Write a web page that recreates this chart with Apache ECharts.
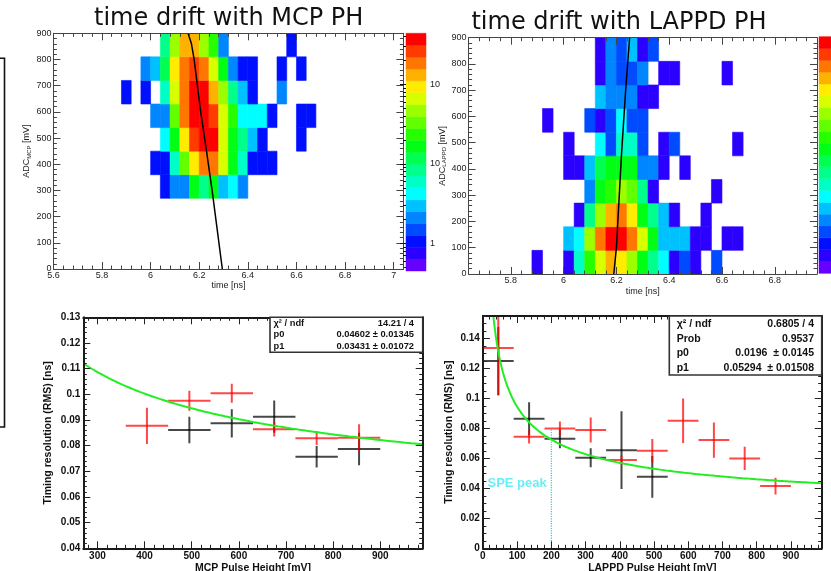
<!DOCTYPE html>
<html>
<head>
<meta charset="utf-8">
<script src="https://cdn.jsdelivr.net/npm/echarts@6.0.0/dist/echarts.min.js"></script>
<style>
html,body{margin:0;padding:0;background:#ffffff;}
#chart{width:831px;height:571px;}
</style>
</head>
<body>
<div id="chart"></div>
<script>
// ================= DATA =================
const _ = null;
const titles = ['time drift with MCP PH', 'time drift with LAPPD PH'];

// 2D histograms: lower edges of the time bins [ns] and ADC bins [mV]
const timeBinLow = [5.88,5.92,5.96,6.00,6.04,6.08,6.12,6.16,6.20,6.24,6.28,6.32,6.36,6.40,6.44,6.48,6.52,6.56,6.60,6.64,6.68];
const adcBinLow  = [0,90,180,270,360,450,540,630,720,810];
const timeBinWidth = 0.04;
const adcBinWidth = 90;

// colour-scale level of each cell (0 = lowest colour, 19 = highest), rows from ADC 0 upward
const mcpLevels = [
  [_,_,_,_,_,_,_,_,_,_,_,_,_,_,_,_,_,_,_,_,_],
  [_,_,_,_,_,_,_,_,_,_,_,_,_,_,_,_,_,_,_,_,_],
  [_,_,_,_,_,_,_,_,_,_,_,_,_,_,_,_,_,_,_,_,_],
  [_,_,_,_,2,4,4,10,8,10,5,6,4,_,_,_,_,_,_,_,_],
  [_,_,_,2,2,7,12,15,17,17,14,10,7,2,2,2,_,_,_,_,_],
  [_,_,_,_,6,10,15,18,19,19,14,10,8,5,2,_,_,_,2,_,_],
  [_,_,_,4,4,12,17,19,19,18,14,11,6,6,6,2,_,_,2,2,_],
  [2,_,2,_,7,14,17,19,19,16,13,8,5,2,_,_,4,_,_,_,_],
  [_,_,4,5,9,15,17,18,17,14,10,4,2,2,_,_,2,_,2,_,_],
  [_,_,_,_,8,13,16,16,13,11,4,_,_,_,_,_,_,2,_,_,_]
];
const lappdLevels = [
  [1,_,_,1,7,11,14,16,15,13,10,8,6,1,3,1,_,3,_,_,_],
  [_,_,_,5,6,13,17,19,19,17,14,10,5,5,5,1,1,_,1,1,_],
  [_,_,_,_,1,8,13,16,17,15,10,8,5,1,_,_,1,_,_,_,_],
  [_,_,_,_,_,4,10,11,13,12,8,1,_,_,_,_,_,1,_,_,_],
  [_,_,_,1,1,5,9,10,10,10,4,4,1,_,1,_,_,_,_,_,_],
  [_,_,_,1,_,_,6,3,7,7,3,_,1,3,_,_,_,_,_,1,_],
  [_,1,_,_,_,3,1,3,6,3,3,_,_,_,_,_,_,_,_,_,_],
  [_,_,_,_,_,_,5,4,4,4,1,1,_,_,_,_,_,_,_,_,_],
  [_,_,_,_,_,_,1,4,3,3,4,_,1,1,_,_,_,_,1,_,_],
  [_,_,_,_,_,_,1,4,3,5,1,3,_,_,_,_,_,_,_,_,_]
];

// drift fit curves drawn on the 2D histograms
const mcpFitTime   = [6.295, 6.253, 6.230, 6.206, 6.179, 6.168, 6.154];
const mcpFitAdc    = [0, 300, 450, 600, 800, 860, 900];
const lappdFitTime = [6.190, 6.200, 6.219, 6.235, 6.250];
const lappdFitAdc  = [0, 100, 450, 700, 900];

// colour bar (log10 of z) of the MCP histogram
const mcpZLogMin = -0.348, mcpZLogMax = 2.642;
const mcpColorTicks = [0, 1, 2];
const mcpColorTickLabels = ['1', '10', '10'];

// timing resolution vs pulse height
const phBinHalfWidth = 45;
const mcpPh        = [405, 495, 585, 675, 765, 855];
const mcpRed       = [0.0877, 0.0975, 0.1004, 0.0864, 0.0829, 0.0831];
const mcpRedErr    = [0.0071, 0.0039, 0.0037, 0.0028, 0.0027, 0.0052];
const mcpBlackPh   = [495, 585, 675, 765, 855];
const mcpBlack     = [0.0861, 0.0887, 0.0913, 0.0757, 0.0787];
const mcpBlackErr  = [0.0052, 0.0055, 0.0063, 0.0042, 0.0063];

const lappdPh       = [45, 135, 225, 315, 405, 495, 585, 675, 765, 855];
const lappdRed      = [0.1337, 0.0744, 0.0800, 0.0789, 0.0589, 0.0651, 0.0851, 0.0722, 0.0600, 0.0415];
const lappdRedErr   = [0.0315, 0.0044, 0.0046, 0.0083, 0.0030, 0.0078, 0.0148, 0.0117, 0.0078, 0.0056];
const lappdBlackPh  = [45, 135, 225, 315, 405, 495];
const lappdBlack    = [0.1249, 0.0864, 0.0731, 0.0604, 0.0655, 0.0477];
const lappdBlackErr = [0.0227, 0.0111, 0.0063, 0.0063, 0.0260, 0.0139];

// fit results  f(x) = p0 + p1*sqrt(ref/x)
const mcpP0 = 0.04602, mcpP1 = 0.03431, mcpRef = 1000;
const lappdP0 = 0.0196, lappdP1 = 0.05294, lappdRef = 200;
const mcpStats = [['χ² / ndf', '14.21 / 4'], ['p0', '0.04602 ± 0.01345'], ['p1', '0.03431 ± 0.01072']];
const lappdStats = [['χ² / ndf', '0.6805 / 4'], ['Prob', '0.9537'], ['p0', '0.0196  ± 0.0145'], ['p1', '0.05294  ± 0.01508']];
const spePeakPh = 200, spePeakTop = 0.08, speLabel = 'SPE peak', speLabelPos = [100, 0.0433];

// tick labels
const mcpTimeTicks   = [5.6, 5.8, 6, 6.2, 6.4, 6.6, 6.8, 7];
const lappdTimeTicks = [5.8, 6, 6.2, 6.4, 6.6, 6.8];
const adcTicks       = [0, 100, 200, 300, 400, 500, 600, 700, 800, 900];
const mcpPhTicks     = [300, 400, 500, 600, 700, 800, 900];
const lappdPhTicks   = [0, 100, 200, 300, 400, 500, 600, 700, 800, 900];
const mcpResTicks    = [0.04, 0.05, 0.06, 0.07, 0.08, 0.09, 0.1, 0.11, 0.12, 0.13];
const lappdResTicks  = [0, 0.02, 0.04, 0.06, 0.08, 0.1, 0.12, 0.14];

// ================= STYLE / BUILD =================
const palette = ['#6600FF','#2B00FF','#0010FF','#004BFF','#0086FF','#00C1FF','#00FDFF','#00FFC6','#00FF8B','#00FF50',
                 '#00FF15','#26FF00','#61FF00','#9CFF00','#D7FF00','#FFEC00','#FFB100','#FF7600','#FF3B00','#FF0000'];
const FONT = 'Liberation Sans';

function range(a, b, s) { const o = []; for (let v = a; v <= b + 1e-9; v += s) o.push(+v.toFixed(6)); return o; }

const topStyle = {frameColor:'#444', frameWidth:1, tickColor:'#444', major:7, minor:3.5,
  label:{fontFamily:FONT, fontSize:9, color:'#222', margin:2}};
const botStyle = {frameColor:'#1a1a1a', frameWidth:2, tickColor:'#222', major:7, minor:3.5,
  label:{fontFamily:FONT, fontSize:10, fontWeight:'bold', color:'#111', margin:3}};

const grid = [], xAxis = [], yAxis = [], series = [];

function panel(rect, xa, ya, st) {
  const gi = grid.length;
  grid.push(Object.assign({outerBoundsMode:'none'}, rect));
  grid.push(Object.assign({outerBoundsMode:'none'}, rect));
  const mk = (g, pos, ax, main, lab) => ({
    type:'value', gridIndex:g, position:pos, min:ax.min, max:ax.max, z:5,
    axisLine:{show:main, onZero:false, lineStyle:{color:st.frameColor, width:st.frameWidth}},
    axisTick:{show:true, inside:true, length: main ? st.major : st.minor,
      customValues: main ? ax.majors : ax.minors, lineStyle:{color:st.tickColor, width:1}},
    axisLabel:Object.assign({show:lab, customValues:ax.majors}, st.label),
    splitLine:{show:false}, minorTick:{show:false}, minorSplitLine:{show:false},
    name: lab ? ax.name : '', nameLocation:'middle', nameGap: ax.nameGap,
    nameTextStyle: ax.nameStyle
  });
  const xi = xAxis.length, yi = yAxis.length;
  xAxis.push(mk(gi,'bottom',xa,true,true), mk(gi,'top',xa,true,false), mk(gi+1,'bottom',xa,false,false), mk(gi+1,'top',xa,false,false));
  yAxis.push(mk(gi,'left',ya,true,true), mk(gi,'right',ya,true,false), mk(gi+1,'left',ya,false,false), mk(gi+1,'right',ya,false,false));
  return {x:xi, y:yi};
}

const smallName = {fontFamily:FONT, fontSize:9, color:'#222'};
const adcName = () => ({fontFamily:FONT, fontSize:9, color:'#222',
  rich:{a:{fontFamily:FONT, fontSize:9, color:'#222'}, s:{fontFamily:FONT, fontSize:6, color:'#222', verticalAlign:'bottom', padding:[5,0,0,0]}}});
const boldName = {fontFamily:FONT, fontSize:10.5, fontWeight:'bold', color:'#111'};

const pMcp = panel({left:53.4, top:33.3, width:350, height:235.7},
  {min:5.6, max:7.04, majors:mcpTimeTicks, minors:range(5.6,7.04,0.04), name:'time [ns]', nameGap:11, nameStyle:smallName},
  {min:0, max:900, majors:adcTicks, minors:range(0,900,20), name:'{a|ADC}{s|MCP}{a| [mV]}', nameGap:19, nameStyle:adcName()}, topStyle);
const pLappd = panel({left:468.6, top:37.7, width:348.4, height:236.3},
  {min:5.64, max:6.96, majors:lappdTimeTicks, minors:range(5.64,6.96,0.04), name:'time [ns]', nameGap:13, nameStyle:smallName},
  {min:0, max:900, majors:adcTicks, minors:range(0,900,20), name:'{a|ADC}{s|LAPPD}{a| [mV]}', nameGap:20, nameStyle:adcName()}, topStyle);
const pMcpRes = panel({left:83.3, top:317.3, width:339.4, height:231},
  {min:270, max:990, majors:mcpPhTicks, minors:range(280,980,20), name:'MCP Pulse Height [mV]', nameGap:13, nameStyle:boldName},
  {min:0.04, max:0.13, majors:mcpResTicks, minors:range(0.04,0.13,0.002), name:'Timing resolution (RMS) [ns]', nameGap:30, nameStyle:boldName}, botStyle);
const pLappdRes = panel({left:482.9, top:316, width:338.8, height:232.3},
  {min:0, max:990, majors:lappdPhTicks, minors:range(0,980,20), name:'LAPPD Pulse Height [mV]', nameGap:12, nameStyle:boldName},
  {min:0, max:0.155, majors:lappdResTicks, minors:range(0,0.155,0.005), name:'Timing resolution (RMS) [ns]', nameGap:28, nameStyle:boldName}, botStyle);

// ---- 2D histogram cells ----
function cells(levels) {
  const out = [];
  levels.forEach((row, r) => row.forEach((lv, c) => { if (lv !== null) out.push([timeBinLow[c], adcBinLow[r], lv]); }));
  return out;
}
function cellItem(params, api) {
  const t = api.value(0), a = api.value(1), lv = api.value(2);
  const p0 = api.coord([t, a]), p1 = api.coord([t + timeBinWidth, a + adcBinWidth]);
  return {type:'rect', shape:{x:p0[0], y:p1[1], width:p1[0]-p0[0], height:p0[1]-p1[1]},
    style:{fill:palette[lv], stroke:palette[lv], lineWidth:0.6}};
}
series.push({type:'custom', xAxisIndex:pMcp.x, yAxisIndex:pMcp.y, data:cells(mcpLevels), renderItem:cellItem, clip:true, silent:true, z:2});
series.push({type:'custom', xAxisIndex:pLappd.x, yAxisIndex:pLappd.y, data:cells(lappdLevels), renderItem:cellItem, clip:true, silent:true, z:2});
series.push({type:'line', xAxisIndex:pMcp.x, yAxisIndex:pMcp.y, data:mcpFitTime.map((t,i)=>[t, mcpFitAdc[i]]),
  symbol:'none', lineStyle:{color:'#000', width:1.5}, z:3, silent:true});
series.push({type:'line', xAxisIndex:pLappd.x, yAxisIndex:pLappd.y, data:lappdFitTime.map((t,i)=>[t, lappdFitAdc[i]]),
  symbol:'none', lineStyle:{color:'#000', width:1.5}, z:3, silent:true});

// ---- colour bars ----
const cbMcp = grid.length;
grid.push({outerBoundsMode:'none', left:406, top:33.3, width:20, height:237.7});
grid.push({outerBoundsMode:'none', left:406, top:33.3, width:20, height:237.7});
const cbLappd = grid.length;
grid.push({outerBoundsMode:'none', left:819, top:36.7, width:14, height:236.6});
const cbx = xAxis.length, cby = yAxis.length;
const minorLog = [0.5,0.6,0.7,0.8,0.9,2,3,4,5,6,7,8,9,20,30,40,50,60,70,80,90,200,300,400].map(v => Math.log10(v));
xAxis.push({type:'value', gridIndex:cbMcp, min:0, max:1, show:false});
xAxis.push({type:'value', gridIndex:cbMcp+1, min:0, max:1, show:false});
xAxis.push({type:'value', gridIndex:cbLappd, min:0, max:1, show:false});
yAxis.push({type:'value', gridIndex:cbMcp, position:'right', min:mcpZLogMin, max:mcpZLogMax, z:5,
  axisLine:{show:false}, splitLine:{show:false},
  axisTick:{show:true, inside:true, length:6, customValues:mcpColorTicks, lineStyle:{color:'#111'}},
  axisLabel:{show:true, customValues:mcpColorTicks, margin:4, fontFamily:FONT, fontSize:9, color:'#222',
    formatter:(v) => mcpColorTickLabels[mcpColorTicks.indexOf(Math.round(v))]}});
yAxis.push({type:'value', gridIndex:cbMcp+1, position:'right', min:mcpZLogMin, max:mcpZLogMax, z:5,
  axisLine:{show:false}, splitLine:{show:false}, axisLabel:{show:false},
  axisTick:{show:true, inside:true, length:3, customValues:minorLog, lineStyle:{color:'#111'}}});
yAxis.push({type:'value', gridIndex:cbLappd, min:0, max:palette.length, show:false});

const step = (mcpZLogMax - mcpZLogMin) / palette.length;
series.push({type:'custom', xAxisIndex:cbx, yAxisIndex:cby, silent:true, z:2,
  data: palette.map((c, i) => [0.5, i]),
  renderItem(params, api) {
    const i = api.value(1);
    const a = api.coord([0, mcpZLogMin + i*step]), b = api.coord([1, mcpZLogMin + (i+1)*step]);
    return {type:'rect', shape:{x:a[0], y:b[1], width:b[0]-a[0], height:a[1]-b[1]}, style:{fill:palette[i], stroke:palette[i], lineWidth:0.5}};
  }});
series.push({type:'custom', xAxisIndex:cbx+2, yAxisIndex:cby+2, silent:true, z:2,
  data: palette.map((c, i) => [0.5, i]),
  renderItem(params, api) {
    const i = api.value(1);
    const a = api.coord([0, i]), b = api.coord([1, i+1]);
    return {type:'rect', shape:{x:a[0], y:b[1], width:b[0]-a[0], height:a[1]-b[1]}, style:{fill:palette[i], stroke:palette[i], lineWidth:0.5}};
  }});

// ---- resolution plots ----
function crossSeries(p, ph, vals, errs, color) {
  return {type:'custom', xAxisIndex:p.x, yAxisIndex:p.y, clip:true, z:3, silent:true,
    data: ph.map((b, i) => [b, vals[i], errs[i]]),
    renderItem(params, api) {
      const x = api.value(0), y = api.value(1), e = api.value(2);
      const cs = params.coordSys;
      const l = api.coord([x - phBinHalfWidth, y]), r = api.coord([x + phBinHalfWidth, y]);
      const t = api.coord([x, y + e]), b = api.coord([x, y - e]);
      const top = Math.max(t[1], cs.y), bot = Math.min(b[1], cs.y + cs.height);
      return {type:'group', children:[
        {type:'line', shape:{x1:l[0], y1:l[1], x2:r[0], y2:r[1]}, style:{stroke:color, lineWidth:2}},
        {type:'line', shape:{x1:t[0], y1:top, x2:b[0], y2:bot}, style:{stroke:color, lineWidth:2}}]};
    }};
}
function fitCurve(p0, p1, ref, x0, x1) {
  const pts = [];
  for (let x = x0; x <= x1 + 1e-9; x += 2) pts.push([x, p0 + p1*Math.sqrt(ref/x)]);
  return pts;
}
const blackCol = 'rgba(0,0,0,0.72)', redCol = 'rgba(255,0,0,0.72)', greenCol = '#22EE22';
series.push(crossSeries(pMcpRes, mcpBlackPh, mcpBlack, mcpBlackErr, blackCol));
series.push(crossSeries(pMcpRes, mcpPh, mcpRed, mcpRedErr, redCol));
series.push({type:'line', xAxisIndex:pMcpRes.x, yAxisIndex:pMcpRes.y, data:fitCurve(mcpP0, mcpP1, mcpRef, 270, 990),
  symbol:'none', lineStyle:{color:greenCol, width:2}, z:4, silent:true, clip:true});
series.push(crossSeries(pLappdRes, lappdBlackPh, lappdBlack, lappdBlackErr, blackCol));
series.push(crossSeries(pLappdRes, lappdPh, lappdRed, lappdRedErr, redCol));
series.push({type:'line', xAxisIndex:pLappdRes.x, yAxisIndex:pLappdRes.y, data:fitCurve(lappdP0, lappdP1, lappdRef, 26, 990),
  symbol:'none', lineStyle:{color:greenCol, width:2}, z:4, silent:true, clip:true});
series.push({type:'line', xAxisIndex:pLappdRes.x, yAxisIndex:pLappdRes.y, data:[[spePeakPh, 0], [spePeakPh, spePeakTop]],
  symbol:'none', lineStyle:{color:'#1FCFE0', width:1.2, type:'dotted'}, z:3, silent:true});
series.push({type:'scatter', xAxisIndex:pLappdRes.x, yAxisIndex:pLappdRes.y, data:[speLabelPos], symbolSize:0, silent:true, z:4,
  label:{show:true, position:'inside', formatter:speLabel, color:'#44E8F4', fontFamily:FONT, fontWeight:'bold', fontSize:13}});

// ---- graphic: titles, stats boxes, slide frame ----
const graphic = [];
graphic.push({type:'text', style:{text:titles[0], x:228.7, y:19, textAlign:'center', textVerticalAlign:'middle',
  font:'normal 24px "DejaVu Sans"', fill:'#111'}});
graphic.push({type:'text', style:{text:titles[1], x:619, y:22.5, textAlign:'center', textVerticalAlign:'middle',
  font:'normal 24px "DejaVu Sans"', fill:'#111'}});
graphic.push({type:'polyline', shape:{points:[[0,58.3],[4.5,58.3],[4.5,427],[0,427]]}, style:{stroke:'#111', lineWidth:1.6, fill:null}});
function statsBox(x, y, w, h, rows, rowY, xl, xr, fs) {
  graphic.push({type:'rect', shape:{x:x, y:y, width:w, height:h}, style:{fill:'#fff', stroke:'#333', lineWidth:1.6}, z:10});
  rows.forEach((r, i) => {
    graphic.push({type:'text', z:11, style:{text:r[0], x:xl, y:rowY[i], textAlign:'left', textVerticalAlign:'middle', font:'bold '+fs+'px "Liberation Sans"', fill:'#111'}});
    graphic.push({type:'text', z:11, style:{text:r[1], x:xr, y:rowY[i], textAlign:'right', textVerticalAlign:'middle', font:'bold '+fs+'px "Liberation Sans"', fill:'#111'}});
  });
}
statsBox(270, 317.3, 152.7, 35, mcpStats, [323.5, 334.5, 346.5], 273.5, 414, 9.3);
statsBox(669.3, 316, 152.4, 59, lappdStats, [324, 339.3, 353.5, 367.7], 676.7, 814, 10.5);

const chart = echarts.init(document.getElementById('chart'), null, {renderer:'canvas', width:831, height:571});
chart.setOption({
  animation:false,
  backgroundColor:'#ffffff',
  grid, xAxis, yAxis, series, graphic
});
</script>
</body>
</html>
